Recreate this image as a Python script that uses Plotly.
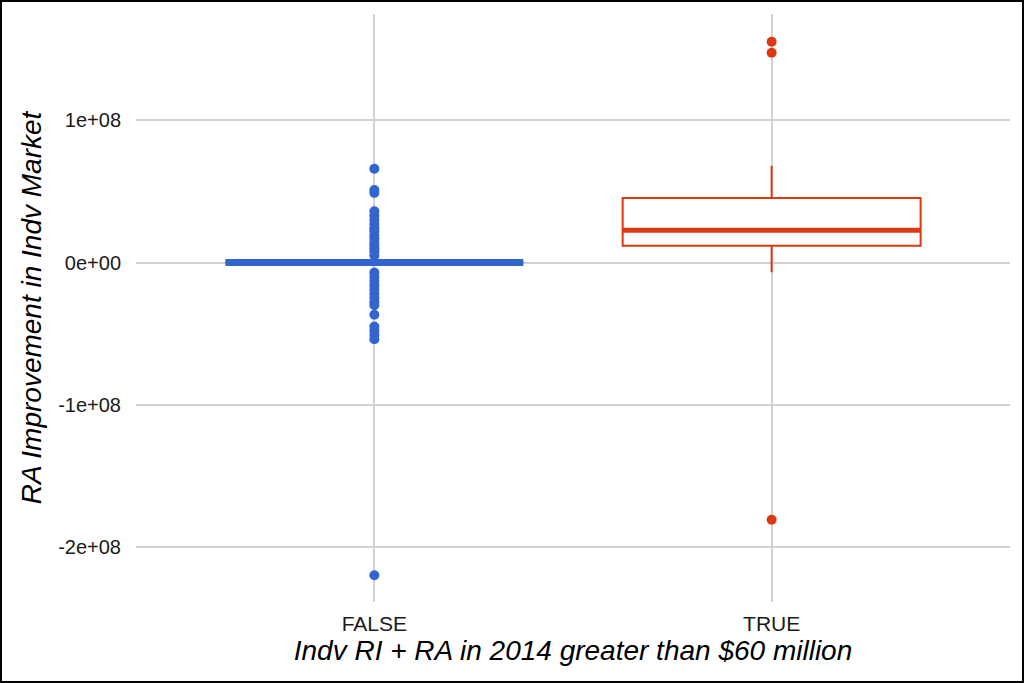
import plotly.graph_objects as go

# ---- data ----
groups = ["FALSE", "TRUE"]
q1 = [0.0, 1.17e7]
median = [0.0, 2.27e7]
q3 = [0.0, 4.54e7]
lower_fence = [0.0, -6.8e6]
upper_fence = [0.0, 6.81e7]

false_outliers = [
    6.6e7, 5.1e7, 4.9e7, 3.6e7, 3.3e7, 3.0e7, 2.7e7, 2.4e7, 2.2e7, 1.9e7,
    1.7e7, 1.4e7, 1.2e7, 1.0e7, 8.0e6, 5.0e6,
    -7.0e6, -1.0e7, -1.3e7, -1.6e7, -1.9e7, -2.2e7, -2.5e7, -2.8e7, -3.0e7,
    -3.67e7, -4.5e7, -4.8e7, -5.1e7, -5.4e7, -2.2e8,
]
true_outliers = [1.553e8, 1.476e8, -1.81e8]
outliers = [false_outliers, true_outliers]

colors = ["#3366CC", "#DC3912"]
tick_vals = [1e8, 0, -1e8, -2e8]
tick_text = ["1e+08", "0e+00", "-1e+08", "-2e+08"]

FONT = "Liberation Sans, Arial, Helvetica, sans-serif"
BOX_W = 0.75

fig = go.Figure()
for i, g in enumerate(groups):
    fig.add_trace(go.Box(
        x=[i], q1=[q1[i]], median=[median[i]], q3=[q3[i]],
        lowerfence=[lower_fence[i]], upperfence=[upper_fence[i]],
        width=BOX_W, whiskerwidth=0, boxpoints=False,
        line=dict(color=colors[i], width=2), fillcolor="white",
        showlegend=False, name=g,
    ))
    # thick median line (ggplot style)
    fig.add_trace(go.Scatter(
        x=[i - BOX_W / 2, i + BOX_W / 2], y=[median[i], median[i]],
        mode="lines", line=dict(color=colors[i], width=5 if i == 1 else 7),
        showlegend=False, hoverinfo="skip",
    ))
    fig.add_trace(go.Scatter(
        x=[i] * len(outliers[i]), y=outliers[i], mode="markers",
        marker=dict(color=colors[i], size=10, line=dict(width=0)),
        showlegend=False,
    ))

ML, MR, MT, MB = 136, 14, 14, 81
W, H = 1024, 683
pw, ph = W - ML - MR, H - MT - MB

fig.update_layout(
    width=W, height=H,
    margin=dict(l=ML, r=MR, t=MT, b=MB),
    paper_bgcolor="white", plot_bgcolor="white",
    font=dict(family=FONT, color="black", size=20),
    xaxis=dict(
        range=[-0.6, 1.6], tickvals=[0, 1], ticktext=groups,
        showgrid=True, gridcolor="#d2d2d2", gridwidth=2, zeroline=False,
        showline=False, ticks="", ticklabelstandoff=7,
        tickfont=dict(size=21, family=FONT, color="#1a1a1a"),
        title=dict(text="<i>Indv RI + RA in 2014 greater than $60 million</i>",
                   font=dict(size=28, family=FONT, color="black"), standoff=4),
    ),
    yaxis=dict(
        range=[-2.388e8, 1.748e8], tickvals=tick_vals, ticktext=tick_text,
        showgrid=True, gridcolor="#d2d2d2", gridwidth=2, zeroline=False,
        showline=False, ticks="", ticklabelstandoff=14,
        tickfont=dict(size=20, family=FONT, color="#1a1a1a"),
        title=dict(text="<i>RA Improvement in Indv Market</i>",
                   font=dict(size=28, family=FONT, color="black"), standoff=8),
    ),
    shapes=[dict(
        type="rect", xref="paper", yref="paper",
        x0=-(ML - 1) / pw, x1=1 + (MR - 1) / pw,
        y0=-(MB - 1) / ph, y1=1 + (MT - 1) / ph,
        line=dict(color="black", width=2), layer="above",
    )],
)

fig.write_html(
    "out.html",
    config={"displayModeBar": False},
    post_script="document.body.style.margin='0';document.body.style.overflow='hidden';",
)
